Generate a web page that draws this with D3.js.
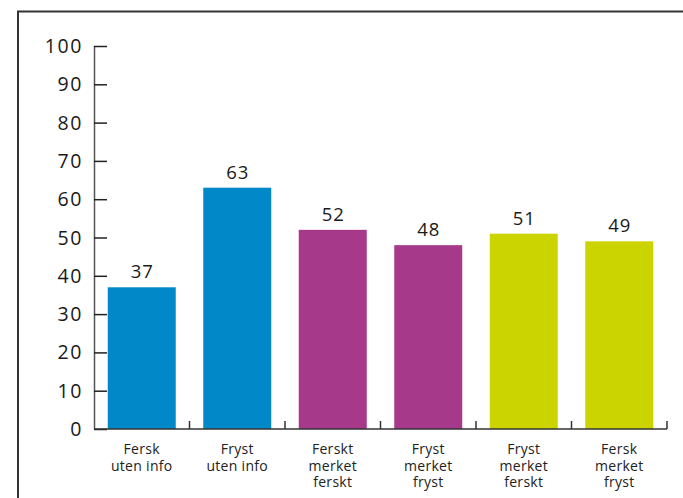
<!DOCTYPE html>
<html><head><meta charset="utf-8">
<script src="https://cdn.jsdelivr.net/npm/d3@7"></script>
<style>body{margin:0;background:#fff}svg{display:block}text{font-family:"Open Sans","Noto Sans",sans-serif}</style>
</head><body>
<svg id="c" width="683" height="498"></svg>
<script>
const categories = [["Fersk","uten info"],["Fryst","uten info"],["Ferskt","merket","ferskt"],["Fryst","merket","fryst"],["Fryst","merket","ferskt"],["Fersk","merket","fryst"]];
const values = [37, 63, 52, 48, 51, 49];
const colors = ["#0088c8","#0088c8","#a6398a","#a6398a","#ccd400","#ccd400"];
const yTicks = [0,10,20,30,40,50,60,70,80,90,100];

const svg = d3.select("#c");
// frame
svg.append("path").attr("d","M18,498V11.5H683").attr("fill","none").attr("stroke","#333").attr("stroke-width",2);

const x = d3.scaleBand().domain(d3.range(values.length)).range([94,667]).padding(0);
const y = d3.scaleLinear().domain([0,100]).range([429,46]);
const barW = x.bandwidth()*0.712;

svg.selectAll("rect.bar").data(values).join("rect")
  .attr("x",(d,i)=>x(i)+(x.bandwidth()-barW)/2)
  .attr("y",d=>y(d)).attr("width",barW).attr("height",d=>y(0)-y(d))
  .attr("fill",(d,i)=>colors[i]);

// y axis
const ya = svg.append("g").attr("transform","translate(94,0)")
  .call(d3.axisRight(y).tickValues(yTicks).tickSize(13).tickFormat(""));
ya.select(".domain").attr("stroke","#555").attr("stroke-width",1.5).attr("d","M0.5,46V429");
ya.selectAll(".tick line").attr("stroke","#222").attr("stroke-width",1.5);
svg.selectAll("text.yl").data(yTicks).join("text").attr("class","yl")
  .attr("x",83).attr("y",d=>y(d)).attr("dy","0.36em").attr("text-anchor","end")
  .attr("font-size",19.5).attr("letter-spacing","1.6px").attr("fill","#1a1a1a").text(d=>d);

// x axis
svg.append("line").attr("x1",94).attr("x2",667).attr("y1",429).attr("y2",429).attr("stroke","#333").attr("stroke-width",1.5);
const bounds = d3.range(1, values.length+1).map(i => i<values.length ? x(i) : x(i-1)+x.bandwidth());
svg.selectAll("line.xt").data(bounds).join("line").attr("class","xt")
  .attr("x1",d=>d).attr("x2",d=>d).attr("y1",421).attr("y2",429).attr("stroke","#333").attr("stroke-width",1.5);

// value labels
svg.selectAll("text.vl").data(values).join("text").attr("class","vl")
  .attr("x",(d,i)=>x(i)+x.bandwidth()/2+0.5).attr("y",d=>y(d)-9)
  .attr("text-anchor","middle").attr("font-size",18.5).attr("letter-spacing","0.8px").attr("fill","#1a1a1a").text(d=>d);

// category labels
const cl = svg.selectAll("text.cl").data(categories).join("text").attr("class","cl")
  .attr("text-anchor","middle").attr("font-size",14).attr("letter-spacing","0.3px").attr("fill","#222")
  .attr("transform",(d,i)=>`translate(${x(i)+x.bandwidth()/2},454)`);
cl.selectAll("tspan").data(d=>d).join("tspan").attr("x",0).attr("dy",(d,j)=>j?16.5:0).text(d=>d);
</script>
</body></html>
